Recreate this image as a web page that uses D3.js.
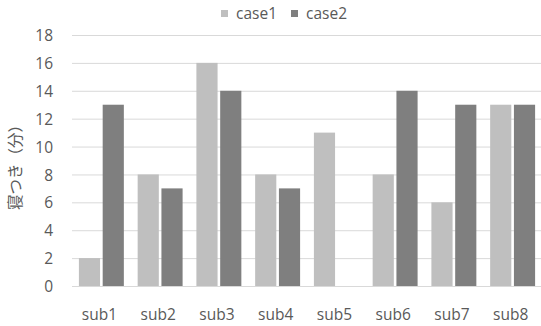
<!DOCTYPE html>
<html><head><meta charset="utf-8">
<script src="https://cdn.jsdelivr.net/npm/d3@7"></script>
<style>body{margin:0;background:#fff;} svg{display:block;}</style>
</head><body>
<script>
const categories = ["sub1","sub2","sub3","sub4","sub5","sub6","sub7","sub8"];
const seriesNames = ["case1","case2"];
const case1 = [2, 8, 16, 8, 11, 8, 6, 13];
const case2 = [13, 7, 14, 7, 0, 14, 13, 13];
const yTicks = [0,2,4,6,8,10,12,14,16,18];
const colors = ["#bfbfbf", "#7f7f7f"];

(function(){
const W = 541, H = 326;
const pl = 72, pr = 542, pt = 35, pb = 286;
const svg = d3.select("body").append("svg").attr("width", W).attr("height", H);
const font = "'Open Sans', sans-serif";
const txt = "#595959";
const fs = 15.5;

const x = d3.scaleBand().domain(categories).range([pl, pr]).paddingInner(0.235).paddingOuter(0.1175);
const xs = d3.scaleBand().domain(seriesNames).range([0, x.bandwidth()]).paddingInner(0.11);
const y = d3.scaleLinear().domain([0, 18]).range([pb, pt]);

// gridlines
svg.append("g").selectAll("line").data(yTicks.filter(d => d > 0)).join("line")
  .attr("x1", pl).attr("x2", W).attr("y1", d => y(d)+0.5).attr("y2", d => y(d)+0.5)
  .attr("stroke", "#d9d9d9").attr("stroke-width", 1);

// bars
const data = categories.map((c, i) => ({c, vals: [case1[i], case2[i]]}));
const g = svg.append("g").selectAll("g").data(data).join("g")
  .attr("transform", d => `translate(${x(d.c)},0)`);
g.selectAll("rect").data(d => d.vals.map((v, j) => ({v, s: seriesNames[j], j}))).join("rect")
  .attr("x", d => xs(d.s)).attr("width", xs.bandwidth())
  .attr("y", d => y(d.v)).attr("height", d => y(0) - y(d.v))
  .attr("fill", d => colors[d.j]);

// x axis line
svg.append("line").attr("x1", pl).attr("x2", W).attr("y1", pb+0.5).attr("y2", pb+0.5)
  .attr("stroke", "#d9d9d9");

// y axis
const ya = d3.axisLeft(y).tickValues(yTicks).tickSize(0).tickPadding(0);
const yg = svg.append("g").attr("transform", `translate(53,0)`).call(ya);
yg.select(".domain").remove();
yg.selectAll("text").attr("font-family", font).attr("font-size", fs).attr("fill", txt).attr("dy", "0.36em");

// x axis
const xa = d3.axisBottom(x).tickSize(0).tickPadding(0);
const xg = svg.append("g").attr("transform", `translate(-2,${pb})`).call(xa);
xg.select(".domain").remove();
xg.selectAll("text").attr("font-family", font).attr("font-size", fs).attr("fill", txt).attr("y", 34).attr("dy", 0);

// y label
svg.append("text").attr("transform", `translate(21,${(pt+pb)/2 + 3}) rotate(-90)`)
  .attr("text-anchor", "middle").attr("font-family", "'Noto Sans CJK JP', sans-serif")
  .attr("font-size", 15.5).attr("fill", txt).text("寝つき（分）");

// legend
const legX = [221, 291];
const lg = svg.append("g").selectAll("g").data(seriesNames).join("g")
  .attr("transform", (d, i) => `translate(${legX[i]},0)`);
lg.append("rect").attr("x", 0).attr("y", 10).attr("width", 7).attr("height", 7).attr("fill", (d, i) => colors[i]);
lg.append("text").attr("x", 15).attr("y", 19).attr("font-family", font).attr("font-size", fs).attr("fill", txt).text(d => d);
})();
</script>
</body></html>
